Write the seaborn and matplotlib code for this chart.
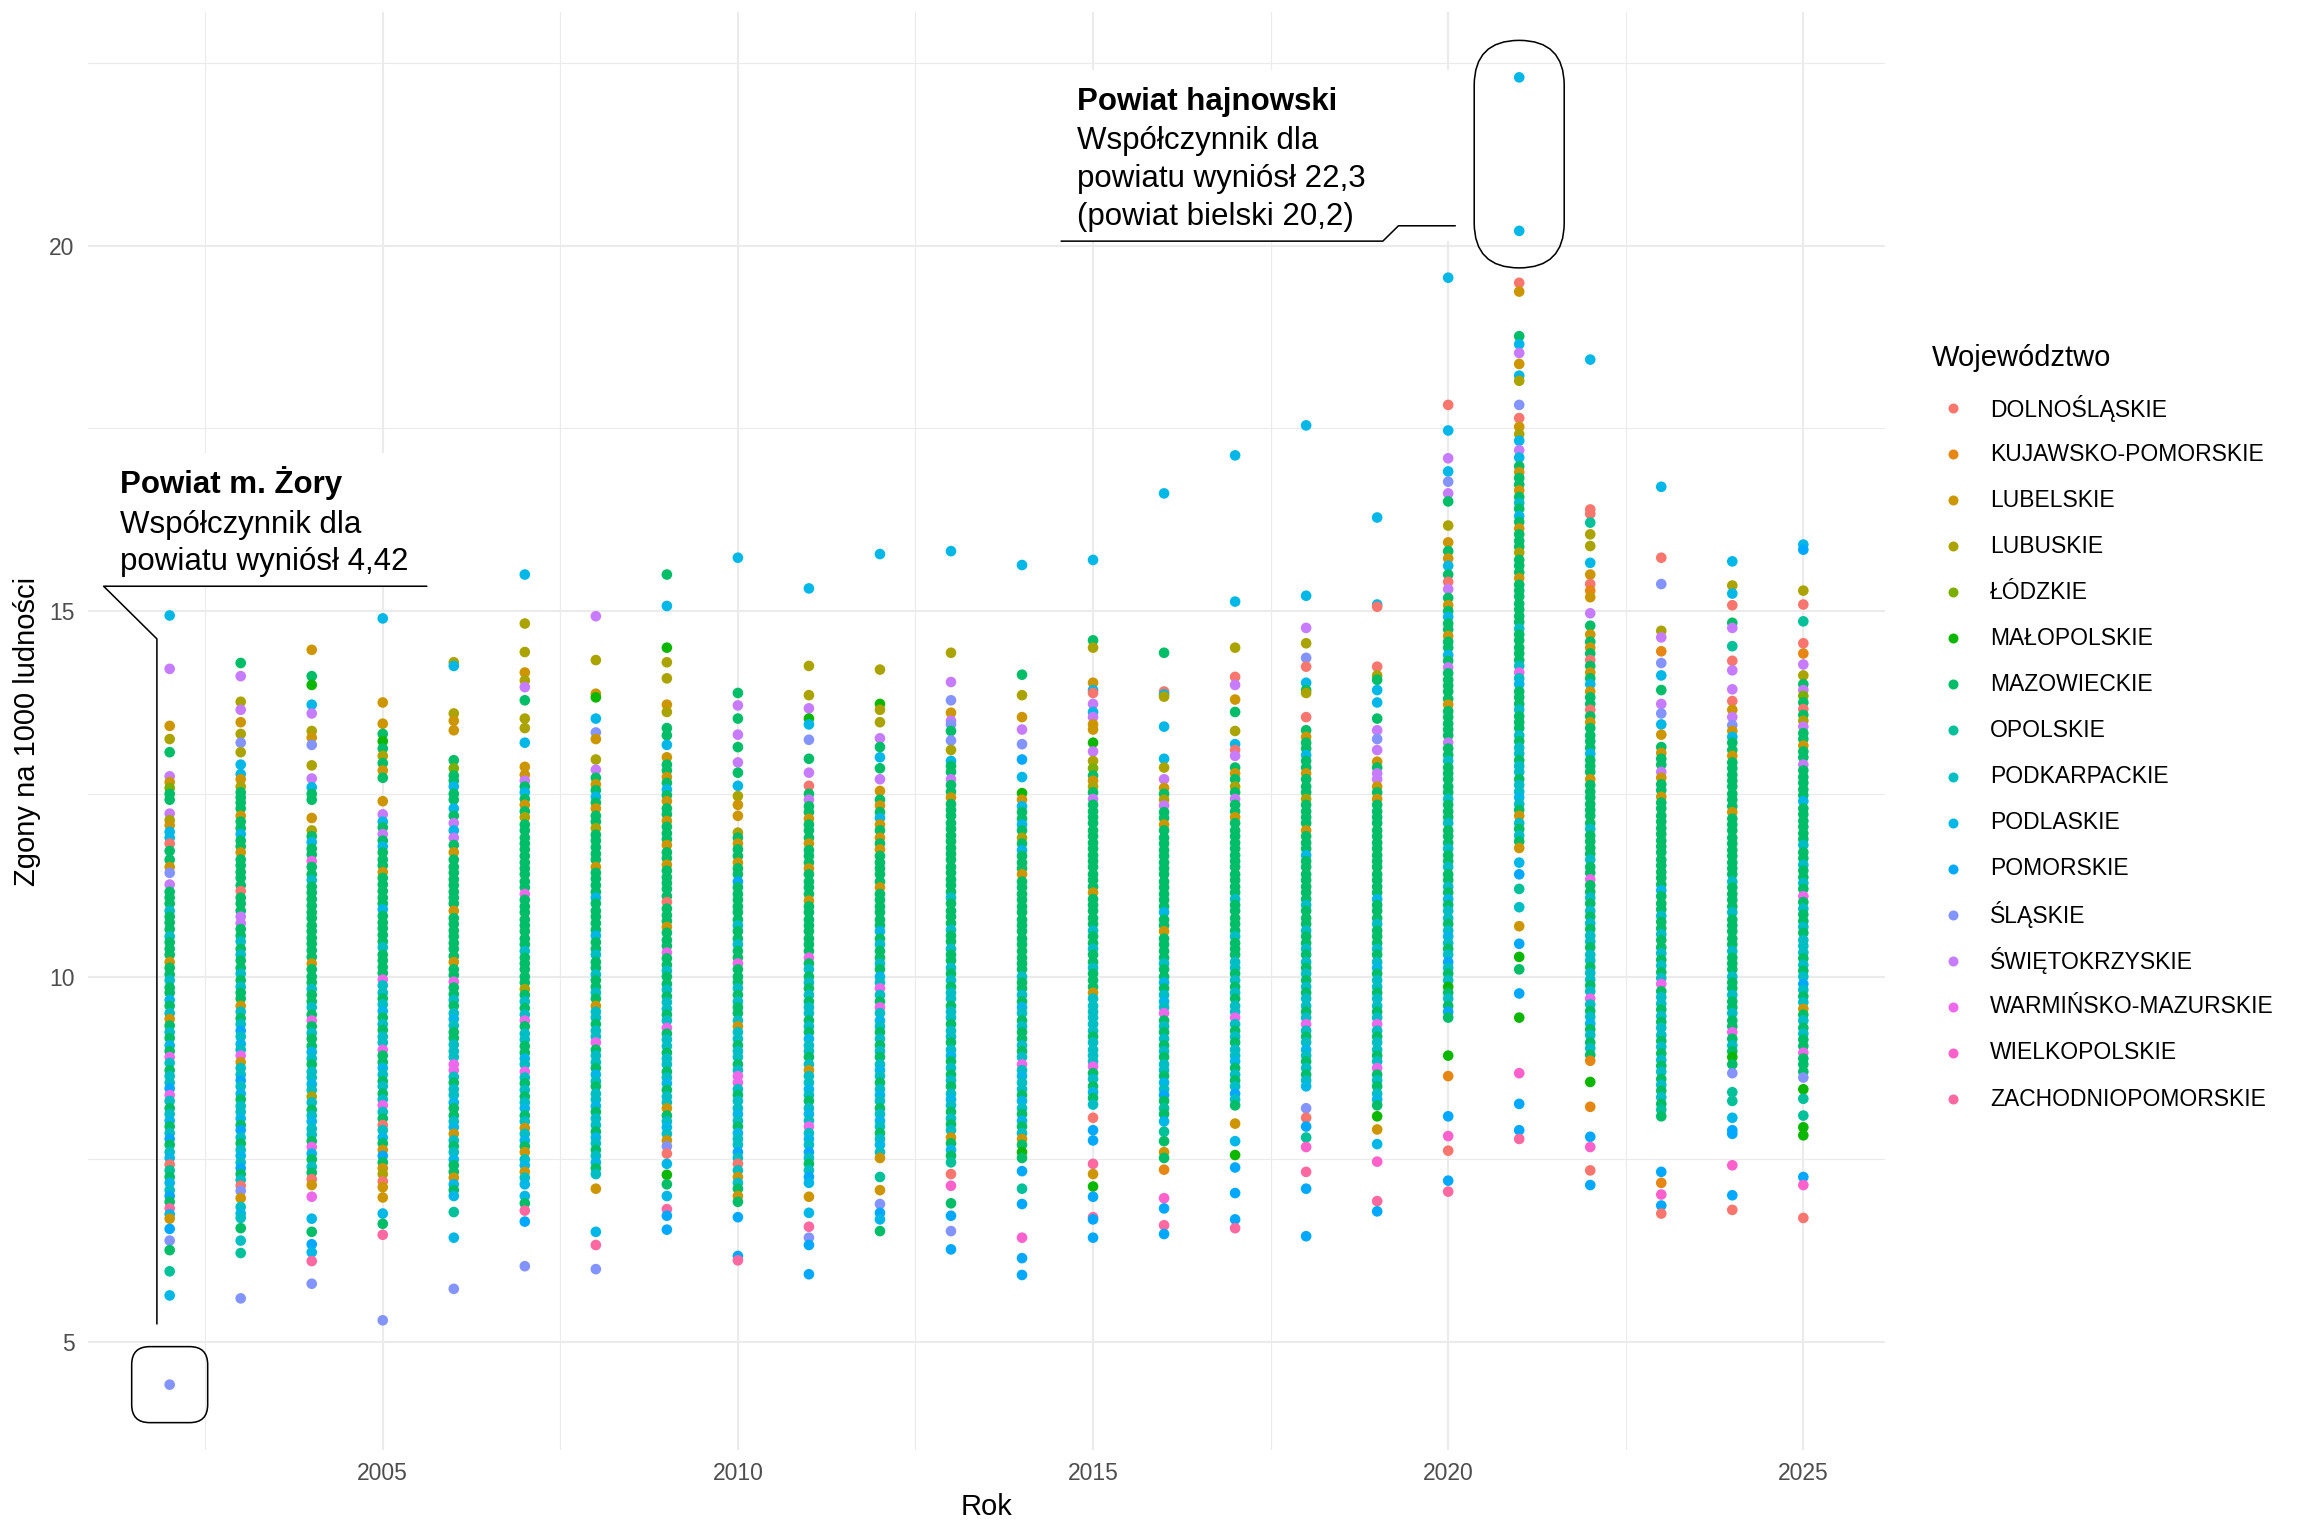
import numpy as np
import pandas as pd
import matplotlib
matplotlib.use('Agg')
import matplotlib.pyplot as plt
import seaborn as sns
from matplotlib.patches import FancyBboxPatch, Rectangle
from matplotlib.transforms import IdentityTransform
from matplotlib.lines import Line2D

# Województwa (kolejność legendy) i ich jednoliterowe kody używane w danych
wojewodztwa = ['DOLNOŚLĄSKIE', 'KUJAWSKO-POMORSKIE', 'LUBELSKIE', 'LUBUSKIE',
               'ŁÓDZKIE', 'MAŁOPOLSKIE', 'MAZOWIECKIE', 'OPOLSKIE',
               'PODKARPACKIE', 'PODLASKIE', 'POMORSKIE', 'ŚLĄSKIE',
               'ŚWIĘTOKRZYSKIE', 'WARMIŃSKO-MAZURSKIE', 'WIELKOPOLSKIE',
               'ZACHODNIOPOMORSKIE']
kody = 'ABCDEFGHIJKLMNOP'

lata = list(range(2002, 2026))

# Zgony na 1000 ludności: "wartość + kod województwa"
r2002 = """14.94J 14.21M 13.43C 13.25D 13.07G 12.74M 12.66C 12.58E 12.5G 12.42G 12.23M 12.14D 12.07C 11.98J 11.9J 11.82A 11.72G 11.6G 11.5C 11.42L 11.26M
11.16G 11.08G 11.0G 10.9I 10.82G 10.74G 10.65G 10.55I 10.47G 10.38G 10.3G 10.2C 10.12G 10.03G 9.95I 9.85G 9.78G 9.68J 9.6G 9.5I 9.42C 9.33G 9.24I 9.16G 9.06J 8.98G 8.9N 8.82I 8.72G 8.64I 8.55I 8.47K 8.38N 8.3I 8.2G 8.12I 8.03J 7.95G 7.86I 7.78K 7.7G 7.6I 7.52J 7.43A 7.35H 7.26G 7.18J 7.08I 7.0K 6.92G 6.83P 6.75J
6.69C 6.55K 6.39L 6.26G 5.97H 5.64J 4.42L"""
r2003 = """14.29G 14.11M 13.76D 13.65M 13.48C 13.32D 13.2L 13.07D 12.9J 12.77J 12.7C 12.6D 12.52G 12.45G
12.38G 12.3G 12.2C 12.12G 12.03G 11.95J 11.86G 11.78G 11.7C 11.6G 11.52G 11.43G 11.35G 11.25G 11.17A 11.08G 11.0G 10.9G 10.82M 10.73M 10.65G 10.56G 10.48I 10.38G 10.3I 10.22G 10.12G 10.04I 9.95G 9.86I 9.78G 9.7G 9.6C 9.52I 9.43G 9.35I 9.26K 9.18I 9.08J 9.0I 8.92N 8.83C 8.75I 8.66I 8.58K 8.5I 8.4J 8.32G 8.23I 8.15I 8.06J 7.97G 7.9K 7.8I 7.72G 7.63I 7.55J 7.46I 7.38K 7.3G 7.22I 7.14A 7.07L
6.97C 6.85I 6.76J 6.7I 6.56G 6.39I 6.22H 5.6L"""
r2004 = """14.47C 14.11G 13.99F 13.72J 13.6M 13.36D 13.27C 13.17L 12.89D 12.71M 12.59J 12.5G 12.42G 12.17C 12.0D
11.92G 11.84J 11.75G 11.67G 11.58N 11.5G 11.4G 11.32I 11.23G 11.15G 11.06G 10.97G 10.88G 10.8G 10.7G 10.62G 10.53G 10.45G 10.36G 10.27G 10.18C 10.1G 10.0G 9.92G 9.83I 9.75G 9.66G 9.58I 9.48G 9.4N 9.32G 9.23I 9.15G 9.05G 8.97J 8.88I 8.8G 8.7I 8.62I 8.53J 8.45I 8.36D 8.28I 8.18G 8.1I 8.02J 7.92I 7.84I 7.75G 7.67N 7.58J 7.5G 7.4I 7.32G 7.23A
7.15C 6.99N 6.69J 6.51G 6.34K 6.23J 6.11P 5.8L"""
r2005 = """14.9J 13.75C 13.46C 13.32G 13.22F 13.12G 13.02D 12.92G 12.82C 12.72G 12.4C 12.22M
12.12J 12.04G 11.95M 11.86G 11.78J 11.7G 11.6G 11.52G 11.43C 11.35G 11.26G 11.17G 11.08G 11.0G 10.92J 10.83G 10.74G 10.66G 10.57G 10.48G 10.4I 10.3G 10.22G 10.13G 10.05G 9.96N 9.88I 9.78I 9.7G 9.62I 9.53J 9.44G 9.35I 9.27G 9.18I 9.1I 9.0N 8.92G 8.83G 8.75J 8.66I 8.57G 8.5I 8.4G 8.32I 8.24N 8.15I 8.06G 7.97A 7.9I 7.8J 7.72G 7.63C 7.55K 7.46G 7.38C 7.3D 7.2A 7.12C
6.98C 6.76J 6.62G 6.47P 5.3L"""
r2006 = """14.3D 14.25J 13.6D 13.5C 13.37C 12.96G 12.85E 12.75G 12.68G 12.6J 12.5G 12.42G 12.3J 12.2G 12.1M 12.0J 11.9M 11.8G 11.7C 11.6G
11.5G 11.42G 11.33G 11.25G 11.16G 11.08G 11.0G 10.9C 10.8G 10.72G 10.63G 10.55G 10.46G 10.38G 10.28G 10.2C 10.1G 10.02G 9.93N 9.85G 9.76G 9.68I 9.6G 9.5I 9.42J 9.33I 9.24G 9.16G 9.07I 8.98I 8.9I 8.8N 8.72N 8.63I 8.55G 8.46I 8.38I 8.28J 8.2G 8.1G 8.02I 7.94J 7.85C 7.76I 7.68G 7.6I 7.5J 7.42G 7.33G 7.25C 7.16J 7.08G 7.0J
6.78H 6.43J 5.73L"""
r2007 = """15.5J 14.83D 14.44D 14.16C 14.05D 13.96M 13.78G 13.53D 13.4D 13.2J 12.87C 12.76C 12.68M
12.6G 12.52J 12.43G 12.35C 12.26G 12.18D 12.08G 12.0G 11.9G 11.82G 11.74G 11.65G 11.56G 11.48G 11.4G 11.3G 11.22G 11.13N 11.05G 10.96G 10.88G 10.78G 10.7G 10.62G 10.52G 10.44G 10.35I 10.26G 10.18G 10.1G 10.0G 9.92G 9.83D 9.75G 9.66I 9.57G 9.48I 9.4N 9.32G 9.22I 9.14I 9.05G 8.96G 8.88J 8.8I 8.7N 8.62I 8.54G 8.45I 8.36G 8.28I 8.2J 8.1G 8.02I 7.93C 7.85I 7.76J 7.68G 7.6C 7.5I 7.42J 7.33C 7.25I 7.16J
7.0J 6.9G 6.8P 6.65K 6.04L"""
r2008 = """14.93M 14.33D 13.87C 13.82F 13.53J 13.34L 13.25C 12.97D 12.83M
12.72G 12.63C 12.55G 12.46J 12.38G 12.3C 12.2G 12.12G 12.03D 11.94G 11.86G 11.77G 11.68G 11.6G 11.5C 11.42G 11.34G 11.25G 11.16G 11.08J 11.0G 10.9G 10.82G 10.73G 10.64G 10.56J 10.47G 10.38G 10.3I 10.2G 10.12G 10.03I 9.95G 9.86G 9.78I 9.7G 9.6C 9.52I 9.44I 9.35G 9.26I 9.18I 9.1N 9.0G 8.92I 8.83I 8.75G 8.66J 8.57I 8.5G 8.4I 8.32I 8.23J 8.15G 8.06I 7.97I 7.88G 7.8J 7.72I 7.63G 7.55I 7.46J 7.38G 7.3I
7.1C 6.51J 6.33P 6.0L"""
r2009 = """15.5G 15.07J 14.5F 14.3D 14.08D 13.72C 13.62D 13.4G 13.3G 13.17J 13.0C
12.9G 12.82G 12.73C 12.65G 12.56J 12.48G 12.4C 12.3G 12.22G 12.13C 12.05G 11.96G 11.88G 11.8C 11.7G 11.62G 11.53C 11.45G 11.36G 11.28G 11.2G 11.1G 11.02A 10.93G 10.84G 10.76G 10.68C 10.6G 10.5G 10.42G 10.33N 10.25G 10.16G 10.08I 10.0G 9.9G 9.82I 9.73G 9.65I 9.56I 9.48G 9.4I 9.3N 9.22G 9.14I 9.05I 8.96G 8.88I 8.8I 8.7G 8.62I 8.54J 8.45G 8.36I 8.28I 8.2C 8.1G 8.02I 7.94J 7.85I 7.76C 7.68L
7.58A 7.44J 7.29F 7.16G 7.0J 6.82P 6.73K 6.54K"""
r2010 = """15.73J 13.88G 13.71M 13.53G 13.31M 13.14G 12.93M 12.79G 12.61J 12.47D 12.35C 12.2C 11.97D
11.9G 11.82C 11.74G 11.65G 11.56C 11.48G 11.4G 11.3K 11.22G 11.13G 11.05G 10.96G 10.88G 10.78G 10.7I 10.62G 10.52G 10.44I 10.35G 10.26G 10.18N 10.1G 10.0G 9.92G 9.84I 9.75G 9.66I 9.58G 9.5G 9.4I 9.32C 9.24I 9.15I 9.06G 8.98I 8.9I 8.8G 8.72I 8.64N 8.55N 8.46I 8.38G 8.3I 8.2I 8.12J 8.03I 7.95G 7.86J 7.78I 7.7I 7.6K 7.52I 7.44A 7.35I 7.26C 7.18I 7.1G
7.0C 6.92G 6.71K 6.18K 6.12P"""
r2011 = """15.31J 14.25D 13.85D 13.67M 13.53F 13.45J 13.24L 12.98G 12.79M 12.61A
12.5G 12.42M 12.33G 12.25G 12.16C 12.08G 12.0G 11.9G 11.82C 11.73G 11.65G 11.56G 11.48C 11.4G 11.3G 11.22G 11.13G 11.04C 10.96G 10.88G 10.78G 10.7G 10.62G 10.52G 10.44G 10.35G 10.26N 10.18G 10.1I 10.0G 9.92I 9.84G 9.75I 9.66G 9.58I 9.5I 9.4G 9.32I 9.24G 9.15J 9.06I 8.98I 8.9G 8.8I 8.72C 8.64I 8.55I 8.46J 8.38I 8.3G 8.2I 8.12J 8.03I 7.95N 7.86I 7.78J 7.7I 7.6K 7.52I 7.44G 7.35I 7.26K 7.18J
6.99C 6.77J 6.58P 6.43L 6.33K 5.93K"""
r2012 = """15.78J 14.2D 13.73F 13.65D 13.48D 13.26M 13.14G 13.0J 12.85G 12.7M 12.54C
12.42G 12.34C 12.25G 12.17J 12.08C 12.0G 11.9C 11.82G 11.74C 11.65G 11.56G 11.48G 11.4G 11.3G 11.22C 11.13G 11.05G 10.96G 10.88G 10.78G 10.7G 10.62J 10.52G 10.44I 10.35G 10.26G 10.18I 10.1G 10.0J 9.92I 9.84N 9.75I 9.66G 9.58N 9.5I 9.4J 9.32I 9.24G 9.15I 9.06G 8.98I 8.9G 8.8I 8.72J 8.64I 8.55G 8.46I 8.38J 8.3I 8.2G 8.12I 8.03J 7.95I 7.86G 7.78I 7.7J 7.6I 7.52C
7.26H 7.08C 6.89L 6.77K 6.68J 6.52G"""
r2013 = """15.82J 14.43D 14.03M 13.78L 13.61C 13.5M 13.45L 13.36G 13.23L 13.1D 12.95J
12.88G 12.8G 12.7M 12.62G 12.53G 12.45C 12.36G 12.28G 12.2G 12.1G 12.02G 11.93G 11.85G 11.76G 11.68G 11.6G 11.5G 11.42G 11.33G 11.25G 11.16G 11.08I 11.0G 10.9G 10.82G 10.73G 10.64I 10.56G 10.48G 10.38I 10.3G 10.22G 10.12I 10.04G 9.95I 9.86G 9.78I 9.7I 9.6G 9.52I 9.44I 9.35G 9.26I 9.18I 9.1G 9.0I 8.92J 8.84G 8.75I 8.66G 8.58I 8.5G 8.4I 8.32J 8.24I 8.15G 8.06I 7.98G 7.9I 7.8C 7.72G 7.63J 7.55G 7.46H
7.3A 7.14O 6.9G 6.73K 6.52L 6.27K"""
r2014 = """15.63J 14.13G 13.85D 13.55C 13.38M 13.18L 12.97K 12.73J 12.51F
12.42C 12.33J 12.25G 12.16G 12.08J 12.0G 11.9D 11.82G 11.73J 11.65G 11.56G 11.48G 11.4C 11.3G 11.22G 11.13G 11.05G 10.96G 10.88G 10.78G 10.7G 10.62G 10.52G 10.44G 10.35G 10.26G 10.18G 10.1G 10.0I 9.92G 9.84G 9.75I 9.66G 9.58J 9.5I 9.4G 9.32I 9.24G 9.15G 9.06I 8.98G 8.9I 8.8N 8.72I 8.64J 8.55I 8.46I 8.38G 8.3J 8.2I 8.12G 8.03J 7.95G 7.86I 7.78C 7.7G 7.6F 7.52G
7.34K 7.1H 6.89K 6.43O 6.15K 5.92K"""
r2015 = """15.7J 14.6G 14.5D 14.02C 13.92J 13.88A 13.73M 13.62J 13.55M 13.45C 13.38C 13.2F 13.08M 12.95D 12.85E 12.75G
12.68C 12.6D 12.52G 12.43M 12.35G 12.26G 12.18G 12.1G 12.0G 11.92G 11.83G 11.75G 11.66G 11.58G 11.5G 11.4G 11.32G 11.23G 11.15C 11.06G 10.98G 10.9G 10.8G 10.72G 10.63I 10.55G 10.46G 10.38I 10.3G 10.2G 10.12I 10.04G 9.95G 9.86G 9.78C 9.7I 9.6I 9.52I 9.44I 9.35I 9.26I 9.18G 9.1I 9.0I 8.92I 8.84I 8.77N 8.68G 8.6I 8.5G 8.42J 8.34G 8.25I
8.07A 7.9K 7.76K 7.44P 7.3C 7.13F 6.99K 6.71P 6.68K 6.43K"""
r2016 = """16.61J 14.43G 13.9A 13.86J 13.83D 13.42J 12.98J 12.86D 12.7M 12.58C
12.5G 12.42D 12.34M 12.25G 12.17G 12.08C 12.0G 11.9G 11.82G 11.73G 11.65G 11.56G 11.48G 11.4G 11.3G 11.22G 11.13G 11.05G 10.96G 10.88J 10.78G 10.7G 10.62C 10.52G 10.44G 10.35G 10.26G 10.18I 10.1G 10.0G 9.92J 9.84G 9.75I 9.66J 9.58I 9.5N 9.4G 9.32I 9.24G 9.15I 9.06G 8.98I 8.9G 8.8I 8.72I 8.64G 8.55J 8.46I 8.38K 8.3G 8.2H 8.12G
8.02J 7.88H 7.75G 7.6C 7.52G 7.36B 6.97O 6.83K 6.6P 6.48K"""
r2017 = """17.13J 15.13J 14.5D 14.1A 13.99M 13.79C 13.62G 13.36D 13.18J 13.1A 13.02M
12.86G 12.78C 12.7G 12.6D 12.52G 12.43M 12.35G 12.26G 12.18C 12.1G 12.0G 11.92G 11.83G 11.75G 11.66G 11.58G 11.5G 11.4G 11.32G 11.23G 11.15G 11.06I 10.98G 10.9G 10.8G 10.72G 10.63G 10.55I 10.46G 10.38G 10.3G 10.2I 10.12I 10.04G 9.95I 9.86G 9.78I 9.7G 9.6I 9.52I 9.44N 9.35I 9.26G 9.18I 9.1G 9.0I 8.92I 8.84J 8.75G 8.66I 8.58G 8.5I 8.4K 8.32I 8.24G
7.99C 7.75J 7.56F 7.39K 7.04K 6.68K 6.56P"""
r2018 = """17.54J 15.21J 14.77M 14.56D 14.36L 14.24A 14.02J 13.92G 13.88D 13.55A
13.37G 13.28C 13.2G 13.12G 13.03J 12.95G 12.86G 12.78C 12.7G 12.6G 12.52G 12.43D 12.35G 12.26G 12.18G 12.1G 12.0C 11.92G 11.83G 11.75G 11.66J 11.58G 11.5G 11.4G 11.32G 11.23G 11.15G 11.06G 10.98I 10.9G 10.8G 10.72G 10.63I 10.55G 10.46G 10.38I 10.3G 10.2I 10.12G 10.04I 9.95G 9.86I 9.78G 9.7I 9.6I 9.52G 9.44I 9.35N 9.26I 9.18G 9.1I 9.0J 8.92I 8.84G 8.75I 8.66G 8.58I 8.5J
8.2L 8.07A 7.95K 7.8H 7.67O 7.33P 7.1K 6.45K"""
r2019 = """16.28J 15.09J 15.06A 14.24A 14.12D 14.06G 13.92J 13.75J 13.53G 13.37M 13.25L 13.1M
12.94C 12.86G 12.78M 12.7M 12.6C 12.52G 12.43C 12.35G 12.26G 12.18G 12.1G 12.0G 11.92G 11.83G 11.75G 11.66G 11.58G 11.5G 11.4G 11.32G 11.23G 11.15G 11.06J 10.98G 10.9G 10.8G 10.72I 10.63G 10.55G 10.46G 10.38I 10.3G 10.2I 10.12J 10.04G 9.95I 9.86I 9.78G 9.7I 9.6I 9.52G 9.44I 9.35N 9.26I 9.18G 9.1I 9.0I 8.92G 8.84I 8.75N 8.66G 8.58I 8.5G 8.4I 8.32J 8.24G
8.09F 7.91C 7.71J 7.47O 6.93P 6.79K"""
r2020 = """19.56J 17.82A 17.47J 17.09M 16.91J 16.77L 16.61M 16.5G 16.17D 15.94C 15.82G 15.72C 15.62J 15.5G 15.4A 15.3M 15.18G 15.08C
15.0G 14.92J 14.83G 14.75G 14.66C 14.58G 14.5G 14.4J 14.32G 14.23M 14.15G 14.06G 13.98G 13.9G 13.8G 13.72C 13.63G 13.55G 13.46G 13.38G 13.3G 13.2M 13.12G 13.03G 12.95I 12.86G 12.78G 12.7G 12.6G 12.52G 12.43I 12.35G 12.26G 12.18G 12.1I 12.0G 11.92G 11.83G 11.75I 11.66G 11.58G 11.5I 11.4G 11.32G 11.23I 11.15G 11.06J 10.98G 10.9I 10.8I 10.72G 10.63I 10.55J 10.46I 10.38G 10.3I 10.2K 10.12I 10.04G 9.95I 9.86F 9.78G 9.7I 9.6G 9.52K 9.44G
8.92F 8.64B 8.09K 7.82O 7.62A 7.21K 7.06P"""
r2021 = """22.3J 20.2J 19.49A 19.37C 18.76G 18.65J 18.53M 18.38C 18.22J 18.15D 17.82L 17.64A 17.52C 17.42D 17.33J 17.2M 17.1J
16.98G 16.9C 16.82G 16.73G 16.65C 16.56G 16.48I 16.4G 16.3J 16.22G 16.13C 16.05G 15.96G 15.88G 15.8D 15.7G 15.62G 15.53G 15.45C 15.36G 15.28G 15.2G 15.1G 15.02G 14.93G 14.85G 14.76I 14.68G 14.6G 14.5G 14.42G 14.33G 14.25I 14.16N 14.08I 14.0J 13.9G 13.82G 13.73G 13.65I 13.56G 13.48G 13.4G 13.3I 13.22G 13.13I 13.05I 12.96G 12.88I 12.8I 12.7G 12.62I 12.53I 12.45J 12.36I 12.28G 12.2C 12.1I 12.02G 11.93I 11.85G 11.76C
11.56J 11.4K 11.2H 10.95I 10.69C 10.45K 10.27F 10.1G 9.77K 9.44F 8.68O 8.26K 7.9K 7.78P"""
r2022 = """18.44J 16.39A 16.33A 16.21H 16.05D 15.89D 15.66J 15.5C 15.37A 15.28B 15.19C 14.97M 14.8G 14.68C
14.58G 14.5C 14.42G 14.33A 14.25G 14.16C 14.08G 14.0J 13.9C 13.82G 13.73G 13.65A 13.56G 13.48C 13.4G 13.3G 13.22G 13.13G 13.05J 12.96G 12.88G 12.8G 12.7C 12.62G 12.53G 12.45G 12.36G 12.28G 12.2G 12.1G 12.02I 11.93G 11.85G 11.76G 11.68G 11.6I 11.5G 11.42G 11.33N 11.25G 11.16G 11.08I 11.0G 10.9I 10.82G 10.73I 10.65G 10.56I 10.48I 10.4G 10.3I 10.22I 10.13G 10.05I 9.96I 9.88G 9.8I 9.7N 9.62I 9.53G 9.45I 9.36J 9.28G 9.2I 9.1G 9.02I 8.93G 8.85B
8.56F 8.22B 7.81K 7.67O 7.35A 7.15K"""
r2023 = """16.7J 15.73A 15.37L 14.73D 14.64M 14.45B 14.29L 14.12J 13.92G 13.73M 13.6L 13.45J 13.31C
13.14G 13.06C 12.98G 12.9G 12.8M 12.72C 12.63G 12.55G 12.46C 12.38G 12.3G 12.2G 12.12G 12.03G 11.95G 11.86G 11.78G 11.7G 11.6G 11.52G 11.43G 11.35G 11.26G 11.18J 11.1G 11.0G 10.92G 10.83I 10.75G 10.66G 10.58I 10.5G 10.4G 10.32I 10.23G 10.15I 10.06G 9.98I 9.9N 9.8G 9.72I 9.63I 9.55G 9.46I 9.38G 9.3I 9.2I 9.12G 9.04I 8.95G 8.86I 8.78G 8.7I 8.6G 8.52I 8.44G 8.35I 8.26G 8.18H 8.09G
7.33K 7.18B 7.02O 6.87K 6.76A"""
r2024 = """15.68J 15.35D 15.24J 15.08A 14.84G 14.77M 14.52H 14.32A 14.19M 13.93M 13.77A 13.65C 13.55M
13.44L 13.36C 13.28J 13.2G 13.1G 13.02C 12.93G 12.85G 12.76G 12.68G 12.6G 12.5G 12.42G 12.33G 12.25C 12.16G 12.08G 12.0G 11.9G 11.82G 11.73G 11.65G 11.56G 11.48G 11.4G 11.3I 11.22G 11.13G 11.05G 10.96G 10.88I 10.78G 10.7G 10.62G 10.52G 10.44G 10.35I 10.26G 10.18G 10.1G 10.0I 9.92G 9.84G 9.75I 9.66G 9.58G 9.5I 9.4G 9.32G 9.24N 9.15G 9.06I 8.98G 8.9F 8.8G
8.68L 8.42H 8.3H 8.07J 7.9K 7.85K 7.42O 7.01K 6.81A"""
r2025 = """15.91J 15.84K 15.28D 15.09A 14.86H 14.56A 14.42B 14.27M 14.12D 14.0G 13.92M 13.84E
13.75G 13.66A 13.58G 13.5D 13.42M 13.33G 13.25G 13.16C 13.08G 13.0G 12.9M 12.82G 12.73G 12.65G 12.56G 12.48G 12.4J 12.3G 12.22G 12.13G 12.05G 11.96G 11.88G 11.8I 11.7G 11.62G 11.53I 11.45G 11.36G 11.28I 11.2G 11.1N 11.02G 10.93I 10.85G 10.76G 10.68I 10.6G 10.5I 10.42I 10.33I 10.25G 10.16I 10.08G 10.0I 9.9K 9.82I 9.73G 9.65I 9.56C 9.48G 9.4I 9.3G 9.22I 9.14G 9.05G 8.96N 8.88G 8.8G 8.7G 8.62L
8.46F 8.33H 8.1H 7.94F 7.83F 7.26K 7.15O 6.7A"""

zgony = [r2002, r2003, r2004, r2005, r2006, r2007, r2008, r2009, r2010, r2011, r2012, r2013,
         r2014, r2015, r2016, r2017, r2018, r2019, r2020, r2021, r2022, r2023, r2024, r2025]


def hcl_hex(h, c=100.0, l=65.0):
    # polarne LUV -> sRGB (jak hcl() w R, paleta hue ggplota)
    hr = np.deg2rad(h)
    u, v = c * np.cos(hr), c * np.sin(hr)
    xn, yn, zn = 95.047, 100.0, 108.883
    den = xn + 15 * yn + 3 * zn
    un, vn = 4 * xn / den, 9 * yn / den
    y = yn * ((l + 16) / 116) ** 3
    up, vp = u / (13 * l) + un, v / (13 * l) + vn
    x = y * 9 * up / (4 * vp)
    z = y * (12 - 3 * up - 20 * vp) / (4 * vp)
    x, y, z = x / 100, y / 100, z / 100
    rgb = np.array([3.240479 * x - 1.537150 * y - 0.498535 * z,
                    -0.969256 * x + 1.875992 * y + 0.041556 * z,
                    0.055648 * x - 0.204043 * y + 1.057311 * z])
    rgb = np.where(rgb > 0.0031308, 1.055 * np.abs(rgb) ** (1 / 2.4) - 0.055, 12.92 * rgb)
    rgb = np.clip(rgb, 0, 1)
    return '#%02x%02x%02x' % tuple(int(round(ch * 255)) for ch in rgb)


n = len(wojewodztwa)
hues = np.linspace(15, 375 - 360 / n, n)
kolory = dict(zip(wojewodztwa, [hcl_hex(h) for h in hues]))

rows = []
for rok, tekst in zip(lata, zgony):
    for tok in tekst.split():
        rows.append((rok, float(tok[:-1]), wojewodztwa[kody.index(tok[-1])]))
df = pd.DataFrame(rows, columns=['rok', 'zgony', 'woj'])

sns.set_theme(style='white')
plt.rcParams['font.family'] = ['Liberation Sans', 'DejaVu Sans']
plt.rcParams['text.color'] = 'black'
plt.rcParams['axes.labelcolor'] = 'black'

W, H = 2304, 1536
fig = plt.figure(figsize=(15.36, 10.24), dpi=150)
ax = fig.add_axes([88 / W, 1 - 1450 / H, (1885 - 88) / W, (1450 - 12) / H])

sns.scatterplot(data=df, x='rok', y='zgony', hue='woj', hue_order=wojewodztwa,
                palette=kolory, s=26, linewidth=0, alpha=1, legend=False, ax=ax, zorder=2)

# zakresy jak w ggplot (5% marginesu)
xr = df['rok'].max() - df['rok'].min()
yr = df['zgony'].max() - df['zgony'].min()
ax.set_xlim(df['rok'].min() - 0.05 * xr, df['rok'].max() + 0.05 * xr)
ax.set_ylim(df['zgony'].min() - 0.05 * yr, df['zgony'].max() + 0.05 * yr)

ax.set_xticks([2005, 2010, 2015, 2020, 2025])
ax.set_xticks([2002.5, 2007.5, 2012.5, 2017.5, 2022.5], minor=True)
ax.set_yticks([5, 10, 15, 20])
ax.set_yticks([7.5, 12.5, 17.5, 22.5], minor=True)
ax.set_axisbelow(True)
ax.grid(which='major', color='#EBEBEB', linewidth=1.0)
ax.grid(which='minor', color='#EBEBEB', linewidth=0.55)
for sp in ax.spines.values():
    sp.set_visible(False)
ax.tick_params(which='both', length=0)
ax.tick_params(axis='x', labelsize=11, labelcolor='#4D4D4D', pad=6)
ax.tick_params(axis='y', labelsize=11, labelcolor='#4D4D4D', pad=6.5)

ax.set_xlabel('Rok', fontsize=14, color='black', va='center')
ax.xaxis.set_label_coords(0.5, -(1507 - 1450) / (1450 - 12))
ax.set_ylabel('Zgony na 1000 ludności', fontsize=14, color='black', va='center')
ax.yaxis.set_label_coords(-(88 - 27) / (1885 - 88), 0.5)

# adnotacje
fs = 15
ax.add_patch(Rectangle((2014.55, 20.06), 2020.10 - 2014.55, 22.40 - 20.06,
                       facecolor='white', edgecolor='none', zorder=1.5))
for i, (txt, yb) in enumerate(zip(['Powiat hajnowski', 'Współczynnik dla',
                                   'powiatu wyniósł 22,3', '(powiat bielski 20,2)'],
                                  [21.85, 21.32, 20.80, 20.28])):
    ax.text(2014.77, yb, txt, fontsize=fs, fontweight='bold' if i == 0 else 'normal',
            color='black', va='baseline', ha='left', zorder=3)
ax.plot([2014.55, 2019.08, 2019.30, 2020.10], [20.06, 20.06, 20.27, 20.27],
        color='black', lw=0.75, clip_on=False, zorder=3)

ax.add_patch(Rectangle((2001.07, 15.34), 2005.62 - 2001.07, 17.16 - 15.34,
                       facecolor='white', edgecolor='none', zorder=1.5))
for i, (txt, yb) in enumerate(zip(['Powiat m. Żory', 'Współczynnik dla',
                                   'powiatu wyniósł 4,42'],
                                  [16.61, 16.07, 15.56])):
    ax.text(2001.30, yb, txt, fontsize=fs, fontweight='bold' if i == 0 else 'normal',
            color='black', va='baseline', ha='left', zorder=3)
ax.plot([2005.62, 2001.07, 2001.82, 2001.82], [15.34, 15.34, 14.62, 5.25],
        color='black', lw=0.75, clip_on=False, zorder=3)

# zaokrąglone ramki wokół punktów skrajnych (w pikselach)
hajn = df[(df['rok'] == 2021) & (df['zgony'] >= 20)]
zory = df[df['zgony'] == df['zgony'].min()]
for sub, padx, pady, rad in [(hajn, 45, 37, 45), (zory, 38, 38, 18)]:
    pts = ax.transData.transform(sub[['rok', 'zgony']].to_numpy())
    x0, y0 = pts[:, 0].min() - padx, pts[:, 1].min() - pady
    x1, y1 = pts[:, 0].max() + padx, pts[:, 1].max() + pady
    box = FancyBboxPatch((x0, y0), x1 - x0, y1 - y0,
                         boxstyle=f'round,pad=0,rounding_size={rad}',
                         facecolor='none', edgecolor='black', linewidth=0.75,
                         transform=IdentityTransform(), zorder=3)
    fig.add_artist(box)

# legenda
fig.text(1932 / W, 1 - 358 / H, 'Województwo', fontsize=14, color='black', va='center', ha='left')
for i, name in enumerate(wojewodztwa):
    yy = 1 - (408 + 46.07 * i) / H
    fig.add_artist(Line2D([1953 / W], [yy], marker='o', markersize=4.8, linestyle='none',
                          markerfacecolor=kolory[name], markeredgewidth=0,
                          transform=fig.transFigure))
    fig.text(1990 / W, yy, name, fontsize=11, color='black', va='center', ha='left')

fig.savefig('out.png', dpi=150, facecolor='white')
